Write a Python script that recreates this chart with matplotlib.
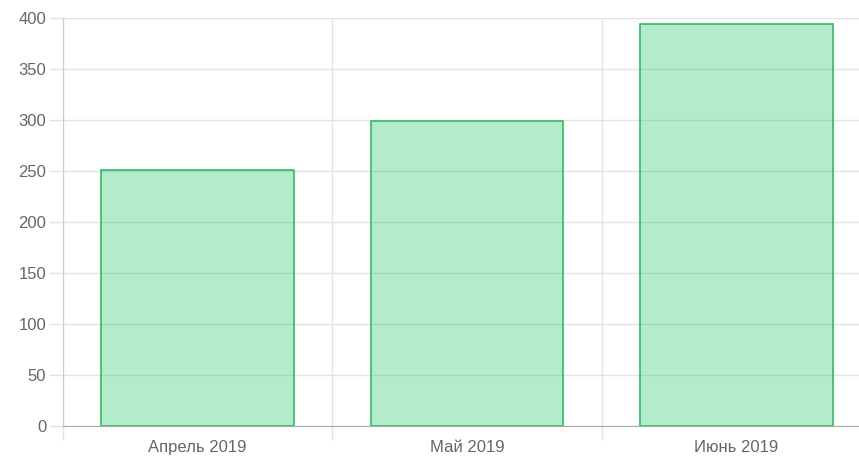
import matplotlib.pyplot as plt

months = ["Апрель 2019", "Май 2019", "Июнь 2019"]
values = [251, 299, 394]

FILL = (46 / 255, 204 / 255, 113 / 255, 0.37)
EDGE = "#35b866"
GRID = "#e3e3e3"
TEXT = "#666666"

plt.rcParams["font.family"] = ["Liberation Sans", "DejaVu Sans"]

fig = plt.figure(figsize=(8.59, 4.59), dpi=100)
# the plot area runs a little past the right edge of the picture
ax = fig.add_axes([63 / 859, 33 / 459, 808 / 859, 408 / 459])

x = list(range(len(months)))
ax.bar(x, values, width=0.715, color=FILL, edgecolor=EDGE, linewidth=1.2, zorder=3)

ax.set_xlim(-0.5, len(months) - 0.5)
ax.set_ylim(0, 400)
ax.set_yticks(range(0, 401, 50))

# labels centred on bars, grid lines between categories
ax.set_xticks(x)
ax.set_xticklabels(months)
ax.set_xticks([i - 0.5 for i in range(len(months) + 1)], minor=True)
ax.tick_params(axis="x", which="major", length=0, pad=10, labelsize=12, labelcolor=TEXT)
ax.tick_params(axis="x", which="minor", length=10, color=GRID, width=1)
ax.tick_params(axis="y", length=10, color=GRID, width=1, pad=2, labelsize=12, labelcolor=TEXT)

ax.grid(True, axis="y", color=GRID, linewidth=1, zorder=0)
ax.grid(True, axis="x", which="minor", color=GRID, linewidth=1, zorder=0)

for side in ["top", "right"]:
    ax.spines[side].set_visible(False)
ax.spines["left"].set_color("#cccccc")
ax.spines["bottom"].set_color("#aaaaaa")
ax.spines["bottom"].set_zorder(4)

fig.savefig("out.png", dpi=100)
